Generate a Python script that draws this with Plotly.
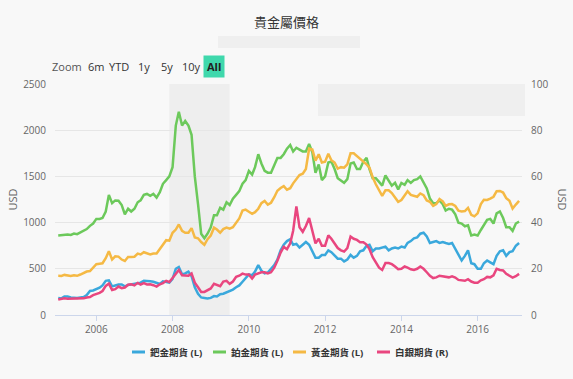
import pandas as pd
import plotly.graph_objects as go

months = pd.date_range("2005-01-01", "2017-02-01", freq="MS")

palladium = [
    185, 180, 200, 200, 190, 185, 185, 190, 195, 215, 260, 265,
    280, 295, 320, 370, 375, 310, 320, 330, 330, 310, 325, 330,
    335, 345, 350, 370, 370, 365, 360, 345, 335, 365, 360, 350,
    390, 500, 520, 440, 450, 470, 420, 300, 230, 190, 185, 180,
    185, 205, 200, 225, 230, 245, 255, 275, 300, 320, 360, 400,
    440, 430, 470, 540, 480, 450, 460, 500, 540, 600, 700, 760,
    800, 820, 760, 770, 730, 760, 790, 760, 680, 620, 620, 650,
    650, 700, 680, 640, 610, 610, 580, 600, 650, 620, 640, 690,
    700, 750, 760, 690, 720, 720, 730, 740, 700, 720, 730, 720,
    740, 730, 780, 800, 830, 840, 880, 890, 850, 780, 790, 800,
    780, 790, 780, 770, 780, 720, 650, 590, 640, 700, 560, 550,
    500, 500, 560, 590, 570, 550, 640, 690, 700, 640, 680, 690,
    750, 780,
]

platinum = [
    860, 865, 870, 870, 867, 882, 875, 896, 915, 930, 965, 990,
    1040, 1040, 1050, 1120, 1300, 1210, 1240, 1237, 1190, 1090, 1150, 1120,
    1150, 1220, 1240, 1300, 1310, 1290, 1310, 1270, 1330, 1420, 1460, 1500,
    1600, 2050, 2200, 2050, 2100, 2050, 1950, 1500, 1200, 880, 830, 880,
    950, 1080, 1080, 1160, 1140, 1220, 1190, 1260, 1300, 1340, 1420, 1460,
    1560, 1520, 1600, 1740, 1640, 1560, 1540, 1540, 1620, 1700, 1700, 1740,
    1800, 1840, 1770, 1810, 1790, 1770, 1770, 1850, 1760, 1540, 1630, 1460,
    1500, 1650, 1660, 1580, 1480, 1450, 1430, 1470, 1640, 1650, 1580, 1580,
    1660, 1700, 1580, 1480, 1480, 1440, 1400, 1510, 1450, 1400, 1430, 1360,
    1430, 1410, 1460, 1430, 1460, 1470, 1500, 1430, 1370, 1260, 1210, 1210,
    1240, 1200, 1130, 1150, 1140, 1090, 1000, 990, 960, 970, 860, 870,
    860, 920, 970, 1030, 1040, 990, 1100, 1120, 1050, 950, 950, 910,
    990, 1010,
]

gold = [
    424, 423, 434, 429, 422, 431, 424, 438, 456, 470, 476, 510,
    550, 555, 560, 615, 690, 600, 635, 632, 600, 585, 627, 629,
    631, 665, 655, 679, 667, 655, 665, 665, 715, 760, 810, 805,
    890, 925, 980, 910, 890, 890, 940, 840, 830, 790, 760, 820,
    860, 945, 925, 890, 930, 946, 935, 950, 1000, 1045, 1130, 1140,
    1118, 1095, 1113, 1150, 1210, 1235, 1195, 1215, 1275, 1345, 1375, 1395,
    1356, 1372, 1425, 1475, 1515, 1530, 1580, 1800, 1790, 1670, 1740, 1650,
    1660, 1745, 1675, 1650, 1585, 1600, 1595, 1630, 1750, 1750, 1720, 1690,
    1670, 1630, 1595, 1490, 1415, 1345, 1290, 1350, 1350, 1320, 1275, 1225,
    1245, 1300, 1340, 1300, 1290, 1280, 1315, 1296, 1240, 1225, 1180, 1200,
    1255, 1230, 1180, 1198, 1200, 1180, 1130, 1120, 1125, 1160, 1085, 1068,
    1100, 1200, 1246, 1245, 1260, 1280, 1340, 1342, 1325, 1265, 1236, 1152,
    1195, 1235,
]

silver = [
    6.7, 7.0, 7.2, 7.0, 7.0, 7.2, 7.1, 7.0, 7.2, 7.6, 7.8, 8.6,
    9.0, 9.6, 10.4, 12.6, 13.6, 10.8, 11.2, 12.3, 11.6, 11.9, 13.1, 13.3,
    12.8, 13.9, 13.2, 13.8, 13.2, 13.3, 12.9, 12.3, 13.3, 13.8, 14.8, 14.3,
    16.0, 17.8, 19.5, 17.2, 17.0, 17.0, 18.0, 14.0, 12.0, 10.0, 10.0, 10.6,
    11.5, 13.5, 13.0, 12.5, 14.5, 14.8, 13.5, 14.5, 16.5, 17.0, 17.9, 17.5,
    17.5, 15.8, 17.5, 18.0, 18.5, 18.5, 18.0, 18.5, 20.5, 23.5, 27.0, 29.5,
    28.5, 31.0, 36.5, 47.0, 38.0, 36.0, 38.5, 42.0, 37.0, 31.0, 33.0, 30.0,
    30.0, 34.5, 33.0, 31.0, 29.0, 28.0, 27.5, 29.0, 34.0, 33.0, 32.5, 31.5,
    31.5, 30.5, 28.5, 25.0, 22.5, 20.5, 19.5, 22.5, 22.5, 22.0, 21.0, 19.8,
    20.0, 21.0, 20.5, 19.8, 19.5, 20.0, 21.0, 20.0, 18.5, 17.0, 16.0, 16.3,
    17.0, 16.8, 16.3, 16.3, 16.7, 16.2, 15.2, 14.9, 14.8, 15.5, 14.5, 14.0,
    14.0, 15.0, 15.5, 16.5, 16.3, 17.2, 20.0, 19.5, 19.3, 17.8, 17.0, 16.2,
    16.8, 17.8,
]

names = ["鈀金期貨 (L)", "鉑金期貨 (L)", "黃金期貨 (L)", "白銀期貨 (R)"]
colors = ["#3aa8dc", "#6cc95b", "#f5b944", "#e9467f"]
recession = ("2007-12-01", "2009-06-30")
buttons = ["6m", "YTD", "1y", "5y", "10y", "All"]

FONT = "Open Sans, Noto Sans CJK TC, sans-serif"
BG = "#f8f8f8"

fig = go.Figure()
for vals, name, col, ax in zip([palladium, platinum, gold, silver], names, colors, ["y", "y", "y", "y2"]):
    fig.add_trace(go.Scatter(x=months, y=vals, name=name, mode="lines",
                             line=dict(color=col, width=2.5), yaxis=ax, showlegend=False))

# plot area geometry in px
L, R, T, B = 55, 522, 84, 315
W, H = R - L, B - T
px = lambda x: (x - L) / W
py = lambda y: (B - y) / H

fig.add_shape(type="rect", xref="x", yref="paper", x0=recession[0], x1=recession[1],
              y0=0, y1=1, fillcolor="#eeeeee", line_width=0, layer="below")
fig.add_shape(type="rect", xref="paper", yref="paper", x0=px(318), x1=px(525),
              y0=py(116), y1=py(84), fillcolor="#efefef", line_width=0, layer="below")
fig.add_shape(type="rect", xref="paper", yref="paper", x0=px(218), x1=px(360),
              y0=py(48), y1=py(36), fillcolor="#efefef", line_width=0)

ann = [dict(text="Zoom", x=px(67), y=py(66), font=dict(size=11, color="#555"))]
btn_x = [96, 119, 144, 167, 191, 214]
for b, bx in zip(buttons, btn_x):
    if b == "All":
        ann.append(dict(text="<b>All</b>", x=px(bx), y=py(66), bgcolor="#3fd8ac",
                        borderpad=3, font=dict(size=11, color="#222")))
    else:
        ann.append(dict(text=b, x=px(bx), y=py(66), font=dict(size=11, color="#333")))
ann.append(dict(text="USD", x=px(12), y=0.5, textangle=-90, font=dict(size=11, color="#666")))
ann.append(dict(text="USD", x=px(562), y=0.5, textangle=90, font=dict(size=11, color="#666")))

# custom legend (short line + label)
leg_x = [132, 213, 293, 377]
for name, col, lx in zip(names, colors, leg_x):
    fig.add_shape(type="line", xref="paper", yref="paper", x0=px(lx), x1=px(lx + 13),
                  y0=py(352), y1=py(352), line=dict(color=col, width=3))
    ann.append(dict(text="<b>%s</b>" % name, x=px(lx + 16), y=py(352), xanchor="left",
                    font=dict(size=9.5, color="#333")))

for a in ann:
    a.setdefault("xanchor", "center")
    a.update(xref="paper", yref="paper", showarrow=False, yanchor="middle")

fig.update_layout(
    width=573, height=379,
    margin=dict(l=L, r=573 - R, t=T, b=379 - B),
    paper_bgcolor=BG, plot_bgcolor=BG,
    font=dict(family=FONT, size=11, color="#666"),
    title=dict(text="貴金屬價格", x=0.5, xanchor="center", y=1 - 22 / 379, yanchor="middle",
               font=dict(size=13, color="#333")),
    annotations=ann,
    showlegend=False,
    xaxis=dict(showgrid=False, showline=True, linecolor="#ccd6eb", ticks="outside",
               ticklen=5, tickcolor="#ccd6eb", dtick="M24", tick0="2006-01-01",
               tickformat="%Y", tickfont=dict(size=10, color="#666"),
               range=["2004-12-01", "2017-03-01"]),
    yaxis=dict(range=[0, 2500], dtick=500, showgrid=True, gridcolor="#e6e6e6",
               zeroline=False, ticklabelstandoff=8, tickfont=dict(size=10, color="#666")),
    yaxis2=dict(range=[0, 100], dtick=20, overlaying="y", side="right", showgrid=False,
                zeroline=False, ticklabelstandoff=8, tickfont=dict(size=10, color="#666")),
)

fig.write_html(
    "out.html",
    config={"displayModeBar": False},
    post_script="document.body.style.margin='0';document.body.style.background='%s';" % BG,
)
